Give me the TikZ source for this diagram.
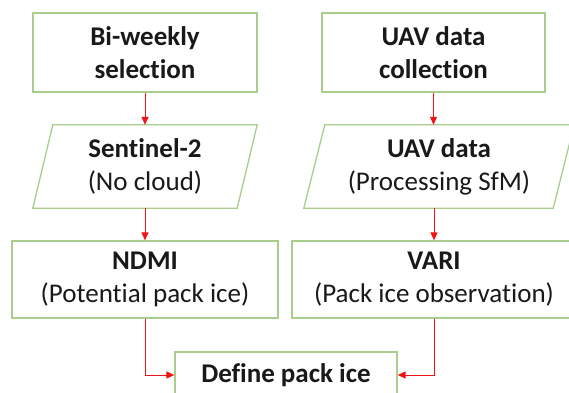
\documentclass[tikz,border=0pt]{standalone}
\usepackage{fontspec}
\setmainfont{Carlito}[Ligatures=NoCommon]
\usetikzlibrary{arrows.meta}
\definecolor{boxgreen}{RGB}{169,205,140}
\definecolor{arrred}{RGB}{240,20,20}
\tikzset{
  x=1pt, y=-1pt,
  txt/.style={font=\fontsize{27}{33}\selectfont, align=center, text=black!90, inner sep=0pt},
  gbox/.style={txt, draw=boxgreen, line width=1.3pt, fill=white},
  pbox/.style={txt},
  arr/.style={draw=arrred, line width=1pt, -{Triangle[length=8pt,width=7pt]}},
  pedge/.style={draw=boxgreen, line width=1.3pt, fill=white}
}
\begin{document}
\begin{tikzpicture}
\useasboundingbox (0,0) rectangle (569,392);
\clip (0,0) rectangle (569,392);
% top boxes
\node[gbox, minimum width=224pt, minimum height=79pt] (b1) at (145,52.5) {\textbf{Bi-weekly}\\\textbf{selection}};
\node[gbox, minimum width=223pt, minimum height=79pt] (b2) at (433.5,52.5) {\textbf{UAV data}\\\textbf{collection}};
% parallelograms
\node[pbox, minimum width=204pt, minimum height=83pt] (p1) at (145,166.5) {};
\path[pedge] ([xshift=-10pt]p1.south west) -- ([xshift=-10pt]p1.south east) -- ([xshift=10pt]p1.north east) -- ([xshift=10pt]p1.north west) -- cycle;
\node[txt] at (p1) {\textbf{Sentinel-2}\\(No cloud)};
\node[pbox, minimum width=249pt, minimum height=83pt] (p2) at (439,166.5) {};
\path[pedge] ([xshift=-10.5pt]p2.south west) -- ([xshift=-10.5pt]p2.south east) -- ([xshift=10.5pt]p2.north east) -- ([xshift=10.5pt]p2.north west) -- cycle;
\node[txt] at (p2) {\textbf{UAV data}\\(Processing SfM)};
% index boxes
\node[gbox, minimum width=266pt, minimum height=77pt] (ndmi) at (145,279.5) {\textbf{NDMI}\\(Potential pack ice)};
\node[gbox, minimum width=284pt, minimum height=77pt] (vari) at (434,279.5) {\textbf{VARI}\\(Pack ice observation)};
% final box
\node[gbox, minimum width=222pt, minimum height=46pt] (def) at (286,375) {\textbf{Define pack ice}};
% arrows
\draw[arr] (b1.south) -- (b1.south |- p1.north);
\draw[arr] (b2.south) -- (b2.south |- p2.north);
\draw[arr] (p1.south -| ndmi.north) -- (ndmi.north);
\draw[arr] (p2.south -| vari.north) -- (vari.north);
\draw[arr] (ndmi.south) |- (def.west);
\draw[arr] (vari.south) |- (def.east);
\end{tikzpicture}
\end{document}
